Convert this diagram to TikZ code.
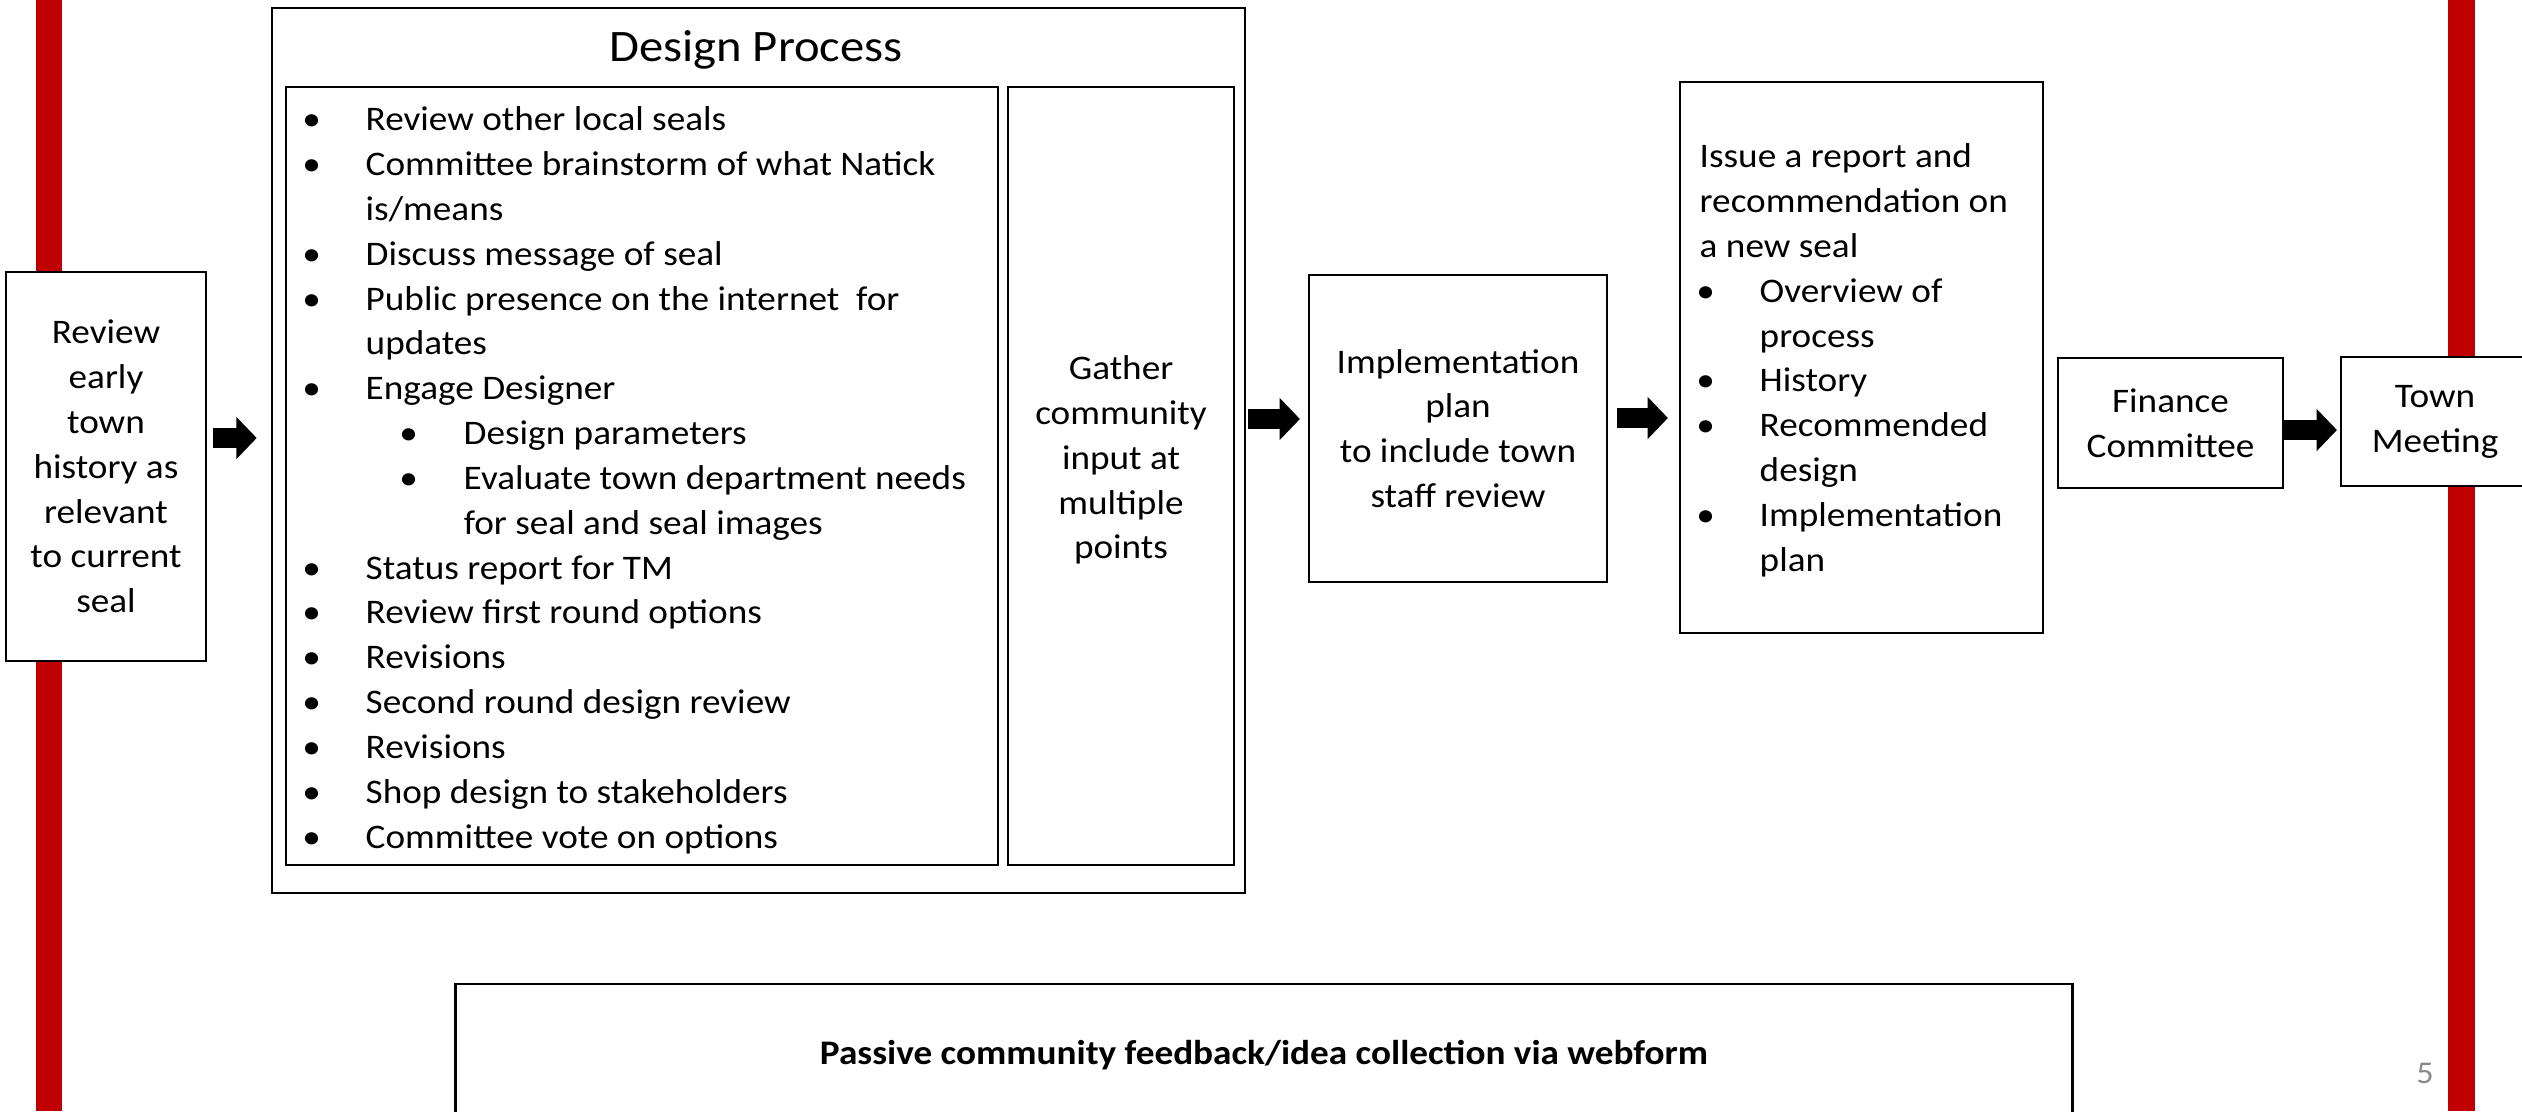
\documentclass[tikz,border=0pt]{standalone}
\usepackage{fontspec}
\setmainfont{Carlito}[FakeStretch=1.08]
\usetikzlibrary{arrows.meta}
\definecolor{barred}{HTML}{C00000}
\definecolor{pagegray}{HTML}{898989}
\newcommand{\bul}{\makebox[15.36pt][l]{\makebox[0pt]{•}}}
\newcommand{\ind}{\hspace*{15.36pt}}
\newcommand{\subbul}{\hspace*{12.23pt}\makebox[15.65pt][l]{\makebox[0pt]{•}}}
\newcommand{\subind}{\hspace*{27.88pt}}
\newcommand{\rbul}{\hspace*{1.7pt}\bul}
\begin{document}
\begin{tikzpicture}[x=0.01cm, y=0.01cm]
\tikzstyle{every node}+=[inner sep=0pt, font=\fontsize{9.8}{12.75}\selectfont]
\tikzstyle{box}=[draw=black, line width=0.6pt, outer sep=0pt, fill=white]
\tikzstyle{blockarrow}=[line width=5.69pt, -{Triangle[length=5.8pt,width=11.7pt]}]
\useasboundingbox (0,0) rectangle (2522,-1111);
% red side bars
\fill [barred] (36,0) rectangle (62,-1111);
\fill [barred] (2448,0) rectangle (2475,-1111);
\node [box, minimum width=2cm, minimum height=3.89cm, align=center] (hist) at (106,-466.5) {Review\\early\\town\\history as\\relevant\\to current\\seal};
\node [box, minimum width=9.73cm, minimum height=8.85cm] (dp) at (758.5,-450.5) {};
\node [anchor=base, font=\fontsize{12.8}{15}\selectfont] (dptitle) at (756,-61) {Design Process};
\node [box, minimum width=7.12cm, minimum height=7.78cm] (steps) at (642,-476) {};
\node [anchor=north west] (steplist) at (311,-98.6) {\begin{tabular}{@{}l@{}}
\bul Review other local seals\\
\bul Committee brainstorm of what Natick\\
\ind is/means\\
\bul Discuss message of seal\\
\bul Public presence on the internet\ \ for\\
\ind updates\\
\bul Engage Designer\\
\ind\subbul Design parameters\\
\ind\subbul Evaluate town department needs\\
\ind\subind for seal and seal images\\
\bul Status report for TM\\
\bul Review first round options\\
\bul Revisions\\
\bul Second round design review\\
\bul Revisions\\
\bul Shop design to stakeholders\\
\bul Committee vote on options
\end{tabular}};
\node [box, minimum width=2.26cm, minimum height=7.78cm] (gather) at (1121,-476) {};
\node [align=center] (gathertext) at (1121,-460) {Gather\\community\\input at\\multiple\\points};
\node [box, minimum width=2.98cm, minimum height=3.07cm, align=center] (impl) at (1458,-428.5) {Implementation\\plan\\to include town\\staff review};
\node [box, minimum width=3.63cm, minimum height=5.51cm] (report) at (1861.5,-357.5) {};
\node [anchor=north west] (reporttext) at (1699,-135.6) {\begin{tabular}{@{}l@{}}
Issue a report and\\
recommendation on\\
a new seal\\
\rbul Overview of\\
\hspace*{1.7pt}\ind process\\
\rbul History\\
\rbul Recommended\\
\hspace*{1.7pt}\ind design\\
\rbul Implementation\\
\hspace*{1.7pt}\ind plan
\end{tabular}};
\node [box, minimum width=2.25cm, minimum height=1.30cm, align=center] (finance) at (2170.5,-423) {Finance\\Committee};
\node [box, minimum width=1.88cm, minimum height=1.29cm, align=center] (town) at (2435,-421.5) {Town\\Meeting};
\node [box, minimum width=16.16cm, minimum height=1.42cm, font=\fontsize{9.8}{12.75}\selectfont\bfseries] (passive) at (1264,-1055) {Passive community feedback/idea collection via webform};
\node [text=pagegray, font=\fontsize{9}{11}\selectfont] (pagenum) at (2425,-1073) {5};
% block arrows
\draw [blockarrow, shorten <=2pt, shorten >=4.27pt] (hist.east |- 0,-438) -- (dp.west |- 0,-438);
\draw [blockarrow, shorten <=0.85pt, shorten >=2.56pt] (dp.east |- 0,-419) -- (impl.west |- 0,-419);
\draw [blockarrow, shorten <=2.85pt, shorten >=3.41pt] (impl.east |- 0,-418) -- (report.west |- 0,-418);
\draw [blockarrow, shorten >=1.14pt] (finance.east |- 0,-430) -- (town.west |- 0,-430);
\end{tikzpicture}
\end{document}
